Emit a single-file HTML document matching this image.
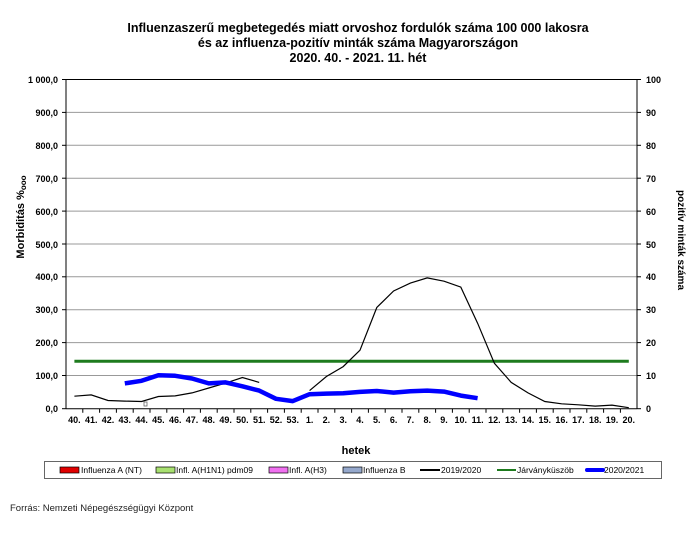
<!DOCTYPE html>
<html><head><meta charset="utf-8"><style>
html,body{margin:0;padding:0;background:#fff;}
svg{display:block;font-family:"Liberation Sans",Arial,sans-serif;}
</style></head><body>
<svg width="700" height="540" viewBox="0 0 700 540">
<rect width="700" height="540" fill="#fff"/>
<g font-weight="bold" font-size="12.5" text-anchor="middle" fill="#000">
<text x="358" y="32">Influenzaszerű megbetegedés miatt orvoshoz fordulók száma 100 000 lakosra</text>
<text x="358" y="47">és az influenza-pozitív minták száma Magyarországon</text>
<text x="358" y="62">2020. 40. - 2021. 11. hét</text>
</g>
<g stroke="#999" stroke-width="1">
<line x1="66" x2="637" y1="112.4" y2="112.4"/><line x1="66" x2="637" y1="145.3" y2="145.3"/>
<line x1="66" x2="637" y1="178.2" y2="178.2"/><line x1="66" x2="637" y1="211.1" y2="211.1"/>
<line x1="66" x2="637" y1="244" y2="244"/><line x1="66" x2="637" y1="276.8" y2="276.8"/>
<line x1="66" x2="637" y1="309.7" y2="309.7"/><line x1="66" x2="637" y1="342.6" y2="342.6"/>
<line x1="66" x2="637" y1="375.5" y2="375.5"/>
</g>
<line x1="66" x2="637" y1="79.5" y2="79.5" stroke="#000"/>
<line x1="66" x2="66" y1="79.5" y2="408.7" stroke="#000"/>
<line x1="637" x2="637" y1="79.5" y2="408.7" stroke="#000"/>
<line x1="66" x2="637" y1="408.7" y2="408.7" stroke="#000"/>
<g stroke="#000">
<line x1="62" x2="66" y1="79.5" y2="79.5"/><line x1="62" x2="66" y1="112.4" y2="112.4"/><line x1="62" x2="66" y1="145.3" y2="145.3"/><line x1="62" x2="66" y1="178.2" y2="178.2"/><line x1="62" x2="66" y1="211.1" y2="211.1"/><line x1="62" x2="66" y1="244" y2="244"/><line x1="62" x2="66" y1="276.8" y2="276.8"/><line x1="62" x2="66" y1="309.7" y2="309.7"/><line x1="62" x2="66" y1="342.6" y2="342.6"/><line x1="62" x2="66" y1="375.5" y2="375.5"/><line x1="62" x2="66" y1="408.7" y2="408.7"/>
<line x1="637" x2="641" y1="79.5" y2="79.5"/><line x1="637" x2="641" y1="112.4" y2="112.4"/><line x1="637" x2="641" y1="145.3" y2="145.3"/><line x1="637" x2="641" y1="178.2" y2="178.2"/><line x1="637" x2="641" y1="211.1" y2="211.1"/><line x1="637" x2="641" y1="244" y2="244"/><line x1="637" x2="641" y1="276.8" y2="276.8"/><line x1="637" x2="641" y1="309.7" y2="309.7"/><line x1="637" x2="641" y1="342.6" y2="342.6"/><line x1="637" x2="641" y1="375.5" y2="375.5"/><line x1="637" x2="641" y1="408.7" y2="408.7"/>
</g>
<path stroke="#000" d="M82.8 408.7v4M99.6 408.7v4M116.4 408.7v4M133.2 408.7v4M150 408.7v4M166.8 408.7v4M183.6 408.7v4M200.4 408.7v4M217.2 408.7v4M234 408.7v4M250.8 408.7v4M267.6 408.7v4M284.4 408.7v4M301.2 408.7v4M318 408.7v4M334.8 408.7v4M351.6 408.7v4M368.4 408.7v4M385.2 408.7v4M402 408.7v4M418.8 408.7v4M435.6 408.7v4M452.4 408.7v4M469.2 408.7v4M486 408.7v4M502.8 408.7v4M519.6 408.7v4M536.4 408.7v4M553.2 408.7v4M570 408.7v4M586.8 408.7v4M603.6 408.7v4M620.4 408.7v4"/>
<g font-size="9" font-weight="bold" text-anchor="end">
<text x="58" y="83">1 000,0</text><text x="58" y="116">900,0</text><text x="58" y="149">800,0</text><text x="58" y="182">700,0</text><text x="58" y="215">600,0</text><text x="58" y="248">500,0</text><text x="58" y="280">400,0</text><text x="58" y="313">300,0</text><text x="58" y="346">200,0</text><text x="58" y="379">100,0</text><text x="58" y="412">0,0</text>
</g>
<g font-size="9" font-weight="bold" text-anchor="start">
<text x="646" y="83">100</text><text x="646" y="116">90</text><text x="646" y="149">80</text><text x="646" y="182">70</text><text x="646" y="215">60</text><text x="646" y="248">50</text><text x="646" y="280">40</text><text x="646" y="313">30</text><text x="646" y="346">20</text><text x="646" y="379">10</text><text x="646" y="412">0</text>
</g>
<g font-size="9" font-weight="bold" text-anchor="middle">
<text x="74.4" y="423">40.</text><text x="91.2" y="423">41.</text><text x="108" y="423">42.</text><text x="124.8" y="423">43.</text><text x="141.6" y="423">44.</text><text x="158.4" y="423">45.</text><text x="175.2" y="423">46.</text><text x="192" y="423">47.</text><text x="208.8" y="423">48.</text><text x="225.6" y="423">49.</text><text x="242.4" y="423">50.</text><text x="259.2" y="423">51.</text><text x="276" y="423">52.</text><text x="292.8" y="423">53.</text><text x="309.6" y="423">1.</text><text x="326.4" y="423">2.</text><text x="343.2" y="423">3.</text><text x="360" y="423">4.</text><text x="376.8" y="423">5.</text><text x="393.6" y="423">6.</text><text x="410.4" y="423">7.</text><text x="427.2" y="423">8.</text><text x="444" y="423">9.</text><text x="460.8" y="423">10.</text><text x="477.6" y="423">11.</text><text x="494.4" y="423">12.</text><text x="511.2" y="423">13.</text><text x="528" y="423">14.</text><text x="544.8" y="423">15.</text><text x="561.6" y="423">16.</text><text x="578.4" y="423">17.</text><text x="595.2" y="423">18.</text><text x="612" y="423">19.</text><text x="628.8" y="423">20.</text>
</g>
<text x="356" y="454" font-size="11" font-weight="bold" text-anchor="middle">hetek</text>
<text transform="translate(24,217) rotate(-90)" font-size="11" font-weight="bold" text-anchor="middle">Morbiditás %<tspan font-size="8" dy="2">ooo</tspan></text>
<text transform="translate(678,240) rotate(90)" font-size="10" font-weight="bold" text-anchor="middle">pozitív minták száma</text>
<rect x="144" y="402" width="3" height="4" fill="none" stroke="#666" stroke-width="0.8"/>
<line x1="74.4" x2="628.8" y1="361.3" y2="361.3" stroke="#1e7b1e" stroke-width="3"/>
<polyline fill="none" stroke="#000" stroke-width="1.2" points="74.4,396.2 91.2,394.9 108,400.5 124.8,401.1 141.6,401.5 158.4,396.5 175.2,395.9 192,392.9 208.8,388 225.6,383.1 242.4,377.5 259.2,382.4"/>
<polyline fill="none" stroke="#000" stroke-width="1.2" points="309.6,390.6 326.4,376.5 343.2,366.6 360,350.2 376.8,307.5 393.6,291 410.4,283.1 427.2,277.9 444,281.2 460.8,287.1 477.6,323.2 494.4,363.3 511.2,382.4 528,392.9 544.8,401.5 561.6,403.8 578.4,404.8 595.2,406.1 612,405.1 628.8,407.7"/>
<polyline fill="none" stroke="#0000ff" stroke-width="4.5" stroke-linejoin="round" points="124.8,383.4 141.6,380.8 158.4,375.2 175.2,375.8 192,378.5 208.8,383.4 225.6,382.4 242.4,386.3 259.2,390.6 276,398.8 292.8,401.1 309.6,394.2 326.4,393.6 343.2,393.3 360,391.9 376.8,391 393.6,392.6 410.4,391.3 427.2,390.6 444,391.6 460.8,395.6 477.6,398.2"/>
<rect x="44.5" y="461.5" width="617" height="17" fill="none" stroke="#666"/>
<g font-size="8.5">
<rect x="60" y="467" width="19" height="6" fill="#e00000" stroke="#000" stroke-width="0.7"/><text x="81" y="473">Influenza A (NT)</text>
<rect x="156" y="467" width="19" height="6" fill="#a8e070" stroke="#000" stroke-width="0.7"/><text x="176" y="473">Infl. A(H1N1) pdm09</text>
<rect x="269" y="467" width="19" height="6" fill="#f070f0" stroke="#000" stroke-width="0.7"/><text x="289" y="473">Infl. A(H3)</text>
<rect x="343" y="467" width="19" height="6" fill="#95a8cc" stroke="#000" stroke-width="0.7"/><text x="363" y="473">Influenza B</text>
<line x1="420" x2="440" y1="470" y2="470" stroke="#000" stroke-width="2"/><text x="441" y="473">2019/2020</text>
<line x1="497" x2="516" y1="470" y2="470" stroke="#1e7b1e" stroke-width="2"/><text x="517" y="473">Járványküszöb</text>
<line x1="587" x2="603" y1="470" y2="470" stroke="#0000ff" stroke-width="4" stroke-linecap="round"/><text x="604" y="473">2020/2021</text>
</g>
<text x="10" y="511" font-size="9.5" fill="#222">Forrás: Nemzeti Népegészségügyi Központ</text>
</svg>
</body></html>
